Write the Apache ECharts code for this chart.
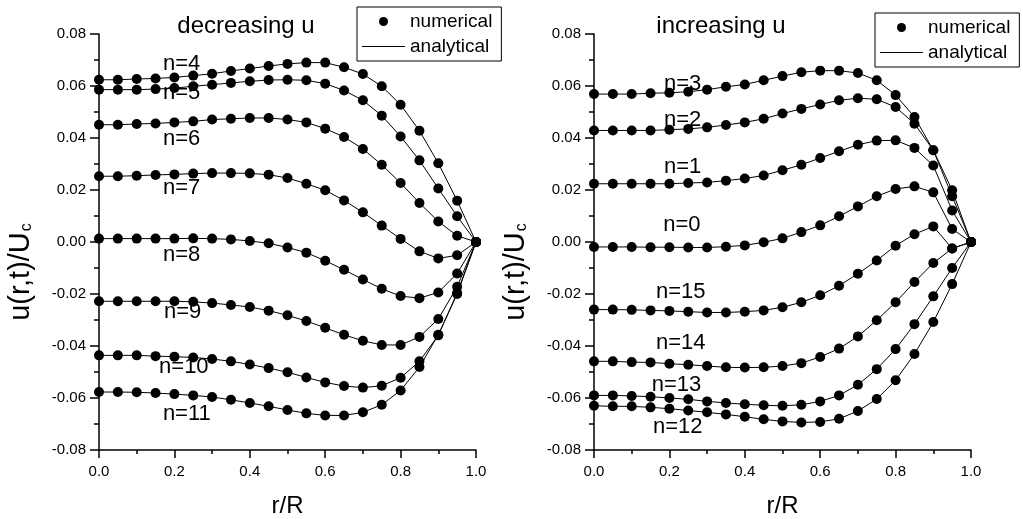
<!DOCTYPE html>
<html>
<head>
<meta charset="utf-8">
<script src="https://cdn.jsdelivr.net/npm/echarts@6/dist/echarts.min.js"></script>
<style>
html,body{margin:0;padding:0;background:#fff;}
#chart{width:1023px;height:519px;}
</style>
</head>
<body>
<div id="chart"></div>
<script>
// radial positions r/R
const rVals = [0,0.05,0.1,0.15,0.2,0.25,0.3,0.35,0.4,0.45,0.5,0.55,0.6,0.65,0.7,0.75,0.8,0.85,0.9,0.95,1.0];

// left panel: decreasing u
const n4  = [0.0624,0.0624,0.0627,0.0629,0.0633,0.0640,0.0647,0.0658,0.0667,0.0677,0.0685,0.0690,0.0690,0.0672,0.0646,0.0599,0.0528,0.0428,0.0303,0.0159,0];
const n5  = [0.0586,0.0586,0.0586,0.0588,0.0592,0.0599,0.0605,0.0612,0.0618,0.0623,0.0624,0.0622,0.0609,0.0583,0.0545,0.0486,0.0406,0.0314,0.0206,0.0099,0];
const n6  = [0.0451,0.0451,0.0454,0.0456,0.0460,0.0464,0.0471,0.0474,0.0477,0.0477,0.0471,0.0460,0.0436,0.0404,0.0358,0.0297,0.0227,0.0150,0.0079,0.0024,0];
const n7  = [0.0253,0.0253,0.0255,0.0258,0.0260,0.0263,0.0265,0.0265,0.0264,0.0259,0.0246,0.0224,0.0199,0.0160,0.0114,0.0063,0.0012,-0.0036,-0.0063,-0.0051,0];
const n8  = [0.0013,0.0013,0.0013,0.0013,0.0013,0.0014,0.0013,0.0010,0.0004,-0.0005,-0.0021,-0.0041,-0.0072,-0.0107,-0.0144,-0.0180,-0.0208,-0.0216,-0.0194,-0.0121,0];
const n9  = [-0.0228,-0.0228,-0.0228,-0.0228,-0.0228,-0.0230,-0.0235,-0.0242,-0.0250,-0.0264,-0.0282,-0.0304,-0.0330,-0.0357,-0.0380,-0.0396,-0.0396,-0.0365,-0.0296,-0.0172,0];
const n10 = [-0.0436,-0.0436,-0.0436,-0.0439,-0.0441,-0.0444,-0.0450,-0.0459,-0.0471,-0.0485,-0.0501,-0.0521,-0.0540,-0.0554,-0.0560,-0.0553,-0.0522,-0.0459,-0.0359,-0.0196,0];
const n11 = [-0.0577,-0.0577,-0.0578,-0.0581,-0.0585,-0.0590,-0.0596,-0.0607,-0.0619,-0.0632,-0.0646,-0.0659,-0.0667,-0.0667,-0.0655,-0.0626,-0.0571,-0.0481,-0.0357,-0.0200,0];

// right panel: increasing u
const n3  = [0.0569,0.0569,0.0569,0.0572,0.0574,0.0578,0.0586,0.0597,0.0606,0.0622,0.0638,0.0653,0.0659,0.0659,0.0650,0.0622,0.0565,0.0481,0.0353,0.0199,0];
const n2  = [0.0429,0.0429,0.0429,0.0429,0.0432,0.0435,0.0441,0.0450,0.0460,0.0474,0.0494,0.0512,0.0529,0.0545,0.0553,0.0549,0.0519,0.0455,0.0353,0.0176,0];
const n1  = [0.0224,0.0224,0.0224,0.0224,0.0224,0.0227,0.0229,0.0236,0.0244,0.0256,0.0276,0.0297,0.0323,0.0349,0.0374,0.0390,0.0391,0.0362,0.0294,0.0121,0];
const n0  = [-0.0019,-0.0019,-0.0019,-0.0020,-0.0020,-0.0021,-0.0021,-0.0018,-0.0013,-0.0001,0.0014,0.0038,0.0064,0.0099,0.0137,0.0176,0.0204,0.0214,0.0191,0.0050,0];
const n15 = [-0.0260,-0.0260,-0.0261,-0.0263,-0.0265,-0.0268,-0.0271,-0.0271,-0.0268,-0.0263,-0.0251,-0.0232,-0.0205,-0.0168,-0.0122,-0.0071,-0.0014,0.0030,0.0060,-0.0025,0];
const n14 = [-0.0459,-0.0459,-0.0462,-0.0463,-0.0468,-0.0472,-0.0477,-0.0482,-0.0483,-0.0482,-0.0477,-0.0466,-0.0442,-0.0410,-0.0363,-0.0301,-0.0232,-0.0154,-0.0081,-0.0025,0];
const n13 = [-0.0590,-0.0590,-0.0592,-0.0595,-0.0600,-0.0605,-0.0613,-0.0619,-0.0624,-0.0628,-0.0630,-0.0626,-0.0613,-0.0590,-0.0549,-0.0489,-0.0412,-0.0316,-0.0209,-0.0100,0];
const n12 = [-0.0630,-0.0632,-0.0632,-0.0636,-0.0641,-0.0648,-0.0655,-0.0663,-0.0672,-0.0682,-0.0690,-0.0694,-0.0692,-0.0680,-0.0650,-0.0604,-0.0532,-0.0431,-0.0308,-0.0162,0];

const leftCurves  = [n4, n5, n6, n7, n8, n9, n10, n11];
const rightCurves = [n3, n2, n1, n0, n15, n14, n13, n12];
const leftNames   = ['n=4','n=5','n=6','n=7','n=8','n=9','n=10','n=11'];
const rightNames  = ['n=3','n=2','n=1','n=0','n=15','n=14','n=13','n=12'];
const yTicks = {min:-0.08, max:0.08, interval:0.02};
const xTicks = {min:0, max:1, interval:0.2};

// annotation anchors (data units) for curve labels
const leftLabelAt  = [[0.219,0.0684],[0.219,0.0574],[0.219,0.0397],[0.219,0.0209],[0.219,-0.0049],[0.222,-0.0268],[0.225,-0.0480],[0.233,-0.0661]];
const rightLabelAt = [[0.235,0.0609],[0.235,0.0470],[0.235,0.0290],[0.233,0.0067],[0.230,-0.0191],[0.230,-0.0387],[0.219,-0.0548],[0.222,-0.0713]];

const FONT = '"Liberation Sans", Arial, sans-serif';
const chart = echarts.init(document.getElementById('chart'), null, {renderer:'canvas'});

function pts(arr){ return arr.map((v,i)=>[rVals[i], v]); }

function makeX(idx){
  return {
    gridIndex: idx, type:'value', min:xTicks.min, max:xTicks.max, interval:xTicks.interval,
    axisLine:{onZero:false, lineStyle:{color:'#000', width:1.5}},
    axisTick:{show:true, length:8, lineStyle:{color:'#000', width:1.5}},
    minorTick:{show:true, splitNumber:2, length:4, lineStyle:{color:'#000', width:1.5}},
    splitLine:{show:false}, minorSplitLine:{show:false},
    axisLabel:{color:'#000', fontSize:15, fontFamily:FONT, margin:14, formatter:v=>v.toFixed(1)},
    name:'r/R', nameLocation:'middle', nameGap:44,
    nameTextStyle:{color:'#000', fontSize:24, fontFamily:FONT}
  };
}
function makeY(idx){
  return {
    gridIndex: idx, type:'value', min:yTicks.min, max:yTicks.max, interval:yTicks.interval,
    axisLine:{onZero:false, lineStyle:{color:'#000', width:1.5}},
    axisTick:{show:true, length:9, lineStyle:{color:'#000', width:1.5}},
    minorTick:{show:true, splitNumber:2, length:5, lineStyle:{color:'#000', width:1.5}},
    splitLine:{show:false}, minorSplitLine:{show:false},
    axisLabel:{color:'#000', fontSize:15, fontFamily:FONT, margin:13, formatter:v=>v.toFixed(2)},
    name:'{a|u(r,t)/U}{b|c}', nameLocation:'middle', nameGap:64,
    nameTextStyle:{color:'#000', fontFamily:FONT, padding:[0,60,0,0],
      rich:{a:{fontSize:29, fontFamily:FONT, color:'#000'}, b:{fontSize:16, fontFamily:FONT, color:'#000', verticalAlign:'bottom', padding:[13,0,0,1]}}}
  };
}

const series = [];
function addPanel(curves, names, anchors, gi){
  curves.forEach(c=>{
    series.push({type:'line', name:'analytical', xAxisIndex:gi, yAxisIndex:gi, data:pts(c),
      symbol:'none', showSymbol:false, lineStyle:{color:'#000', width:1}, itemStyle:{color:'#000'}, z:2, silent:true, animation:false});
  });
  curves.forEach(c=>{
    series.push({type:'scatter', name:'numerical', xAxisIndex:gi, yAxisIndex:gi, data:pts(c),
      symbol:'circle', symbolSize:10, itemStyle:{color:'#000', opacity:1}, z:3, silent:true, animation:false});
  });
  series.push({type:'scatter', name:'labels', xAxisIndex:gi, yAxisIndex:gi,
    data: anchors.map((a,i)=>({name:names[i], value:a})), symbolSize:0, silent:true, animation:false,
    itemStyle:{opacity:1, color:'#000'}, z:4,
    label:{show:true, position:'inside', formatter:p=>p.name, color:'#000', opacity:1, fontSize:22, fontFamily:FONT}});
}
addPanel(leftCurves, leftNames, leftLabelAt, 0);
addPanel(rightCurves, rightNames, rightLabelAt, 1);

const legendItems = [
  {name:'numerical', icon:'circle', itemStyle:{color:'#000', opacity:1}},
  {name:'analytical', icon:'path://M0,0 M43,9 M0,4 L43,4 L43,5 L0,5 Z', itemStyle:{color:'#000', borderWidth:0}}
];
const legendBase = {
  orient:'vertical', data:legendItems, itemWidth:43, itemHeight:9, itemGap:6,
  borderColor:'#000', borderWidth:1, padding:[5,9,5,5], selectedMode:false, backgroundColor:'#fff',
  textStyle:{color:'#000', fontSize:19, fontFamily:FONT}
};

chart.setOption({
  animation:false,
  backgroundColor:'#fff',
  grid:[
    {left:99, top:34, width:377, height:416, containLabel:false, outerBoundsMode:'none'},
    {left:594, top:34, width:377, height:416, containLabel:false, outerBoundsMode:'none'}
  ],
  xAxis:[makeX(0), makeX(1)],
  yAxis:[makeY(0), makeY(1)],
  legend:[Object.assign({left:357, top:7}, legendBase), Object.assign({left:875, top:13}, legendBase)],
  graphic:[
    {type:'text', x:246, y:26, style:{text:'decreasing u', align:'center', verticalAlign:'middle', fontSize:24, fontFamily:FONT, fill:'#000'}},
    {type:'text', x:721, y:26, style:{text:'increasing u', align:'center', verticalAlign:'middle', fontSize:24, fontFamily:FONT, fill:'#000'}}
  ],
  series: series
});
</script>
</body>
</html>
